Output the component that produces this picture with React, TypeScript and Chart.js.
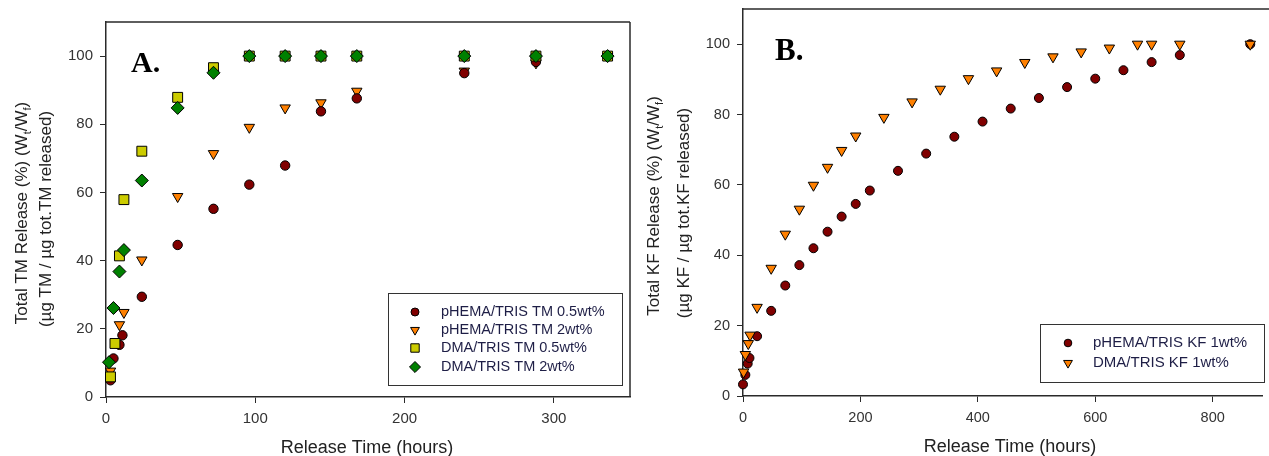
import React, { useEffect, useRef } from 'react';
import { Chart, registerables } from 'chart.js';

Chart.register(...registerables);

// ---------- Panel A: TM release (hours vs %) ----------
const tmTimePhema05 = [3, 5, 9, 11, 24, 48, 72, 96, 120, 144, 168, 240, 288, 336];
const tmPhema05 = [4.9, 11.3, 15.3, 18.1, 29.4, 44.6, 55.2, 62.3, 67.9, 83.8, 87.6, 95.0, 98.3, 100];
const tmTimePhema2 = [3, 9, 12, 24, 48, 72, 96, 120, 144, 168, 240, 288, 336];
const tmPhema2 = [7.6, 21.2, 24.8, 40.2, 58.8, 71.4, 79.1, 84.8, 86.3, 89.7, 95.6, 98.0, 100];
const tmTimeDma05 = [3, 6, 9, 12, 24, 48, 72, 96, 120, 144, 168, 240, 288, 336];
const tmDma05 = [5.9, 15.7, 41.4, 57.9, 72.1, 87.9, 96.6, 100, 100, 100, 100, 100, 100, 100];
const tmTimeDma2 = [2, 5, 9, 12, 24, 48, 72, 96, 120, 144, 168, 240, 288, 336];
const tmDma2 = [10.2, 26.1, 36.8, 43.1, 63.5, 84.8, 95.1, 100, 100, 100, 100, 100, 100, 100];
const tmLabels = ['pHEMA/TRIS TM 0.5wt%', 'pHEMA/TRIS TM 2wt%', 'DMA/TRIS TM 0.5wt%', 'DMA/TRIS TM 2wt%'];

// ---------- Panel B: KF release ----------
const kfTimePhema = [0, 4, 8, 11, 24, 48, 72, 96, 120, 144, 168, 192, 216, 264, 312, 360, 408, 456, 504, 552, 600, 648, 696, 744, 864];
const kfPhema = [3.3, 6.0, 9.2, 10.8, 17.0, 24.2, 31.4, 37.2, 42.0, 46.7, 51.0, 54.6, 58.4, 64.0, 68.9, 73.7, 78.0, 81.7, 84.7, 87.8, 90.2, 92.6, 94.9, 96.9, 100];
const kfTimeDma = [1, 4, 9, 12, 24, 48, 72, 96, 120, 144, 168, 192, 240, 288, 336, 384, 432, 480, 528, 576, 624, 672, 696, 744, 864];
const kfDma = [6.8, 11.8, 14.9, 17.3, 25.2, 36.3, 46.0, 53.1, 59.9, 65.0, 69.8, 73.9, 79.2, 83.6, 87.2, 90.2, 92.4, 94.8, 96.4, 97.8, 98.9, 100, 100, 100, 100];
const kfLabels = ['pHEMA/TRIS KF 1wt%', 'DMA/TRIS KF 1wt%'];

// axis ticks
const yTickStep = 20;
const yAxisMax = 110;
const xTickStepA = 100;
const xAxisMaxA = 351;
const xTickStepB = 200;
const xAxisMaxB = 884;

const SANS = '"Liberation Sans", Arial, sans-serif';
const SERIF = '"Liberation Serif", "Times New Roman", serif';
const AXIS_COLOR = '#2a2a2a';

type Style = 'circle' | 'triangle' | 'rect' | 'rectRot';
type Series = { label: string; x: number[]; y: number[]; style: Style; color: string; radius: number; order: number };
type Part = { t: string; sub?: boolean };
type Panel = {
  width: number;
  height: number;
  padTop: number;
  padRight: number;
  yWidth: number;
  xHeight: number;
  xMax: number;
  xStep: number;
  tickSize: number;
  rightBorder: boolean;
  series: Series[];
  letter: string;
  letterX: number;
  letterY: number;
  letterSize: number;
  yTitle1: Part[];
  yTitle1Pos: [number, number];
  yTitle2: string;
  yTitle2Pos: [number, number];
  xTitlePos: [number, number];
  legendBox: [number, number, number, number];
  legendMarkerX: number;
  legendTextX: number;
  legendRows: number[];
  legendFont: number;
  legendScale: number;
};

const DARK_RED = '#800000';
const ORANGE = '#ff8000';
const YELLOW = '#cccc00';
const GREEN = '#008000';

function drawMarker(ctx: CanvasRenderingContext2D, style: Style, x: number, y: number, r: number, color: string) {
  ctx.beginPath();
  if (style === 'circle') {
    ctx.arc(x, y, r, 0, Math.PI * 2);
  } else if (style === 'triangle') {
    ctx.moveTo(x - r * 0.866, y - r / 2);
    ctx.lineTo(x + r * 0.866, y - r / 2);
    ctx.lineTo(x, y + r);
    ctx.closePath();
  } else if (style === 'rect') {
    const s = r * Math.SQRT1_2;
    ctx.rect(x - s, y - s, 2 * s, 2 * s);
  } else {
    ctx.moveTo(x, y - r);
    ctx.lineTo(x + r, y);
    ctx.lineTo(x, y + r);
    ctx.lineTo(x - r, y);
    ctx.closePath();
  }
  ctx.fillStyle = color;
  ctx.fill();
  ctx.lineWidth = 1;
  ctx.strokeStyle = '#000';
  ctx.stroke();
}

function drawRotated(ctx: CanvasRenderingContext2D, parts: Part[], cx: number, cy: number, size: number) {
  ctx.save();
  ctx.translate(cx, cy);
  ctx.rotate(-Math.PI / 2);
  const main = `${size}px ${SANS}`;
  const sub = `${Math.round(size * 0.65)}px ${SANS}`;
  let total = 0;
  const widths = parts.map((p) => {
    ctx.font = p.sub ? sub : main;
    const w = ctx.measureText(p.t).width;
    total += w;
    return w;
  });
  let x = -total / 2;
  const base = size * 0.36;
  ctx.fillStyle = '#222';
  ctx.textBaseline = 'alphabetic';
  ctx.textAlign = 'left';
  parts.forEach((p, i) => {
    ctx.font = p.sub ? sub : main;
    ctx.fillText(p.t, x, p.sub ? base + size * 0.22 : base);
    x += widths[i];
  });
  ctx.restore();
}

function makeChart(canvas: HTMLCanvasElement, p: Panel) {
  const axisCommon = () => ({
    type: 'linear' as const,
    min: 0,
    grid: { display: true, drawOnChartArea: false, drawTicks: true, tickLength: 6, color: AXIS_COLOR, lineWidth: 1 },
    border: { display: true, color: AXIS_COLOR, width: 1.5 },
  });
  return new Chart(canvas, {
    type: 'scatter',
    data: {
      datasets: p.series.map((s) => ({
        label: s.label,
        data: s.x.map((x, i) => ({ x, y: s.y[i] })),
        pointStyle: s.style,
        pointRotation: s.style === 'triangle' ? 180 : 0,
        pointRadius: s.radius,
        pointHoverRadius: s.radius,
        backgroundColor: s.color,
        pointBackgroundColor: s.color,
        borderColor: '#000',
        pointBorderColor: '#000',
        pointBorderWidth: 1,
        borderWidth: 1,
        order: s.order,
        clip: false,
        showLine: false,
      })),
    },
    options: {
      responsive: false,
      animation: false,
      devicePixelRatio: 1,
      events: [],
      layout: { padding: { left: 0, top: p.padTop, right: p.padRight, bottom: 0 } },
      plugins: { legend: { display: false }, tooltip: { enabled: false }, title: { display: false } },
      scales: {
        x: {
          ...axisCommon(),
          max: p.xMax,
          ticks: { stepSize: p.xStep, includeBounds: false, color: '#333', padding: 7, maxRotation: 0, autoSkip: false, font: { family: SANS, size: p.tickSize } },
          afterFit: (s: any) => {
            s.height = p.xHeight;
            s.paddingLeft = 0; s.paddingRight = 0; s.paddingTop = 0; s.paddingBottom = 0;
          },
        },
        y: {
          ...axisCommon(),
          max: yAxisMax,
          ticks: { stepSize: yTickStep, includeBounds: false, color: '#333', padding: 7, autoSkip: false, font: { family: SANS, size: p.tickSize } },
          afterFit: (s: any) => {
            s.width = p.yWidth;
            s.paddingLeft = 0; s.paddingRight = 0; s.paddingTop = 0; s.paddingBottom = 0;
          },
        },
      },
    },
    plugins: [
      {
        id: 'decor',
        afterDraw(chart: any) {
          const ctx: CanvasRenderingContext2D = chart.ctx;
          const a = chart.chartArea;
          ctx.save();
          // frame
          ctx.strokeStyle = AXIS_COLOR;
          ctx.lineWidth = 1.5;
          ctx.beginPath();
          ctx.moveTo(a.left, a.top);
          ctx.lineTo(p.rightBorder ? a.right : chart.width, a.top);
          if (p.rightBorder) {
            ctx.moveTo(a.right, a.top);
            ctx.lineTo(a.right, a.bottom);
          }
          ctx.stroke();
          // panel letter
          ctx.fillStyle = '#000';
          ctx.font = `bold ${p.letterSize}px ${SERIF}`;
          ctx.textAlign = 'left';
          ctx.textBaseline = 'alphabetic';
          ctx.fillText(p.letter, p.letterX, p.letterY);
          // axis titles
          drawRotated(ctx, p.yTitle1, p.yTitle1Pos[0], p.yTitle1Pos[1], 17);
          drawRotated(ctx, [{ t: p.yTitle2 }], p.yTitle2Pos[0], p.yTitle2Pos[1], 17);
          ctx.fillStyle = '#222';
          ctx.font = `18px ${SANS}`;
          ctx.textAlign = 'center';
          ctx.textBaseline = 'middle';
          ctx.fillText('Release Time (hours)', p.xTitlePos[0], p.xTitlePos[1]);
          // legend
          const [bx, by, bw, bh] = p.legendBox;
          ctx.fillStyle = '#fff';
          ctx.fillRect(bx, by, bw, bh);
          ctx.lineWidth = 1;
          ctx.strokeStyle = '#333';
          ctx.strokeRect(bx + 0.5, by + 0.5, bw, bh);
          p.series.forEach((s, i) => {
            const yy = p.legendRows[i];
            drawMarker(ctx, s.style, p.legendMarkerX, yy, s.radius * p.legendScale, s.color);
            ctx.fillStyle = '#1e1e46';
            ctx.font = `${p.legendFont}px ${SANS}`;
            ctx.textAlign = 'left';
            ctx.textBaseline = 'middle';
            ctx.fillText(s.label, p.legendTextX, yy);
          });
          ctx.restore();
        },
      },
    ],
  } as any);
}

const panelA: Panel = {
  width: 640,
  height: 456,
  padTop: 22,
  padRight: 10,
  yWidth: 106,
  xHeight: 59,
  xMax: xAxisMaxA,
  xStep: xTickStepA,
  tickSize: 15,
  rightBorder: true,
  series: [
    { label: tmLabels[0], x: tmTimePhema05, y: tmPhema05, style: 'circle', color: DARK_RED, radius: 4.7, order: 2 },
    { label: tmLabels[1], x: tmTimePhema2, y: tmPhema2, style: 'triangle', color: ORANGE, radius: 6, order: 3 },
    { label: tmLabels[2], x: tmTimeDma05, y: tmDma05, style: 'rect', color: YELLOW, radius: 7, order: 1 },
    { label: tmLabels[3], x: tmTimeDma2, y: tmDma2, style: 'rectRot', color: GREEN, radius: 6.5, order: 0 },
  ],
  letter: 'A.',
  letterX: 131,
  letterY: 72,
  letterSize: 30,
  yTitle1: [{ t: 'Total TM Release (%) (W' }, { t: 't', sub: true }, { t: '/W' }, { t: 'f', sub: true }, { t: ')' }],
  yTitle1Pos: [21, 213],
  yTitle2: '(µg TM / µg tot.TM released)',
  yTitle2Pos: [45, 219],
  xTitlePos: [367, 448],
  legendBox: [388, 293, 234, 92],
  legendMarkerX: 415,
  legendTextX: 441,
  legendRows: [312, 330, 348, 367],
  legendFont: 14.5,
  legendScale: 0.85,
};

const panelB: Panel = {
  width: 629,
  height: 456,
  padTop: 9,
  padRight: 0,
  yWidth: 103,
  xHeight: 60,
  xMax: xAxisMaxB,
  xStep: xTickStepB,
  tickSize: 14.5,
  rightBorder: false,
  series: [
    { label: kfLabels[0], x: kfTimePhema, y: kfPhema, style: 'circle', color: DARK_RED, radius: 4.5, order: 1 },
    { label: kfLabels[1], x: kfTimeDma, y: kfDma, style: 'triangle', color: ORANGE, radius: 6, order: 0 },
  ],
  letter: 'B.',
  letterX: 135,
  letterY: 60,
  letterSize: 31,
  yTitle1: [{ t: 'Total KF Release (%) (W' }, { t: 't', sub: true }, { t: '/W' }, { t: 'f', sub: true }, { t: ')' }],
  yTitle1Pos: [13, 206],
  yTitle2: '(µg KF / µg tot.KF released)',
  yTitle2Pos: [43, 213],
  xTitlePos: [370, 447],
  legendBox: [400, 324, 224, 58],
  legendMarkerX: 428,
  legendTextX: 453,
  legendRows: [343, 363],
  legendFont: 15,
  legendScale: 0.85,
};

function ChartPanel({ panel, left }: { panel: Panel; left: number }) {
  const ref = useRef<HTMLCanvasElement | null>(null);
  useEffect(() => {
    if (!ref.current) return;
    const chart = makeChart(ref.current, panel);
    return () => chart.destroy();
  }, [panel]);
  return (
    <div style={{ position: 'absolute', left, top: 0, width: panel.width, height: panel.height, overflow: 'hidden' }}>
      <canvas ref={ref} width={panel.width} height={panel.height} style={{ display: 'block', width: panel.width, height: panel.height }} />
    </div>
  );
}

export default function App() {
  return (
    <div style={{ position: 'absolute', left: 0, top: 0, width: 1269, height: 456, background: '#fff', overflow: 'hidden' }}>
      <ChartPanel panel={panelA} left={0} />
      <ChartPanel panel={panelB} left={640} />
    </div>
  );
}
